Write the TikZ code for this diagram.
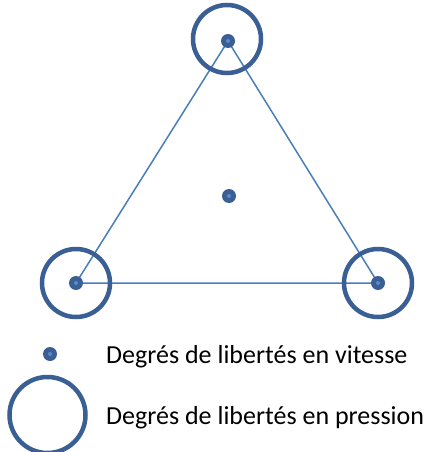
\documentclass[tikz,border=0pt]{standalone}
\usepackage{fontspec}
\setmainfont{Carlito}
\usetikzlibrary{backgrounds}
\definecolor{ringblue}{HTML}{3A5F94}
\definecolor{lineblue}{HTML}{4A7EBB}
\definecolor{dotin}{HTML}{5B8BC8}
\tikzset{
  dof/.style={circle, fill=ringblue, inner sep=0pt, minimum size=14pt,
    path picture={\fill[dotin] (path picture bounding box.center) circle (2pt);}},
  ring/.style={circle, draw=ringblue, line width=4.5pt, inner sep=0pt, minimum size=68pt},
  edge/.style={draw=lineblue, line width=1.5pt},
  lab/.style={anchor=base west, inner sep=0pt, font=\fontsize{26}{30}\selectfont}
}
\begin{document}
\begin{tikzpicture}[x=1pt,y=-1pt]
\useasboundingbox (0,0) rectangle (430,452);
\node[dof] (t) at (228,41) {};
\node[dof] (l) at (76,283) {};
\node[dof] (r) at (378,283) {};
\node[dof] (c) at (229,196) {};
\node[ring] (rt) at (227,39) {};
\node[ring] (rl) at (76,283) {};
\node[ring] (rr) at (378,283) {};
\begin{scope}[on background layer]
  \draw[edge] (t.center) -- (l.center) -- (r.center) -- cycle;
\end{scope}
\node[dof] (ld) at (50,354) {};
\node[lab] (lt1) at (106,363) {Degrés de libertés en vitesse};
\node[ring, minimum size=76pt] (lr) at (47.5,415) {};
\node[lab] (lt2) at (106,424) {Degrés de libertés en pression};
\end{tikzpicture}
\end{document}
